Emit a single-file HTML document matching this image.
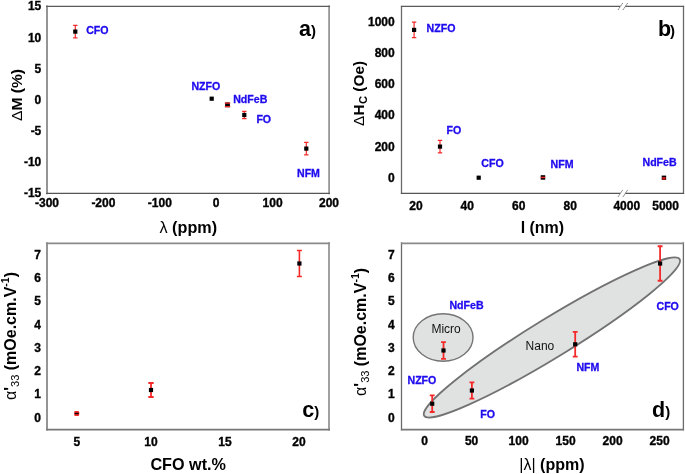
<!DOCTYPE html>
<html><head><meta charset="utf-8"><style>
html,body{margin:0;padding:0;background:#fff;}
svg{display:block;will-change:transform;}
text{font-family:"Liberation Sans",sans-serif;}
.t{font-size:12px;font-weight:bold;fill:#000;stroke:#000;stroke-width:0.35px;}
.l{font-size:10.6px;font-weight:bold;fill:#1e08ee;stroke:#1e08ee;stroke-width:0.3px;}
.ax{font-weight:bold;fill:#000;}
.g{font-weight:normal;}
.pl{font-size:21.5px;font-weight:bold;fill:#000;}
.pp{font-size:15px;font-weight:bold;}
.n{font-size:12px;font-weight:normal;fill:#111;}
</style></head><body>
<svg width="685" height="474" viewBox="0 0 685 474">
<defs><filter id="bl" x="0" y="0" width="1" height="1"><feGaussianBlur stdDeviation="0.3"/></filter></defs>
<g filter="url(#bl)">
<rect width="685" height="474" fill="#fff"/>

<path d="M47.0 5.5V194.2" stroke="#8a8a8a" stroke-width="1.8" fill="none"/>
<path d="M329.1 5.5V194.2" stroke="#969696" stroke-width="1.8" fill="none"/>
<path d="M46.1 6.45H330" stroke="#5a5a5a" stroke-width="1.2" fill="none"/>
<path d="M46.1 193.4H330" stroke="#555555" stroke-width="1.2" fill="none"/>
<text x="41.3" y="10.3" text-anchor="end" class="t">15</text>
<text x="41.3" y="41.5" text-anchor="end" class="t">10</text>
<text x="41.3" y="72.6" text-anchor="end" class="t">5</text>
<text x="41.3" y="103.8" text-anchor="end" class="t">0</text>
<text x="41.3" y="135.0" text-anchor="end" class="t">-5</text>
<text x="41.3" y="166.1" text-anchor="end" class="t">-10</text>
<text x="41.3" y="197.3" text-anchor="end" class="t">-15</text>
<text x="47.0" y="206.8" text-anchor="middle" class="t">-300</text>
<text x="103.4" y="206.8" text-anchor="middle" class="t">-200</text>
<text x="159.8" y="206.8" text-anchor="middle" class="t">-100</text>
<text x="216.2" y="206.8" text-anchor="middle" class="t">0</text>
<text x="272.6" y="206.8" text-anchor="middle" class="t">100</text>
<text x="329.0" y="206.8" text-anchor="middle" class="t">200</text>
<text x="188.3" y="232.7" text-anchor="middle" class="ax" font-size="16.2"><tspan class="g">λ</tspan> (ppm)</text>
<text transform="translate(21.6,95) rotate(-90) scale(1.07,1)" text-anchor="middle" class="ax" font-size="14.6"><tspan class="g">Δ</tspan>M (%)</text>
<path d="M75.30 25.35V37.85M73.10 25.35h4.4M73.10 37.85h4.4" stroke="#f42a2a" stroke-width="1.2" fill="none"/>
<rect x="73.20" y="29.50" width="4.2" height="4.2" fill="#000"/>
<rect x="209.60" y="96.60" width="4.2" height="4.2" fill="#000"/>
<rect x="225.10" y="102.45" width="4.8" height="4.8" fill="#000"/>
<path d="M224.80 103.05h5.3999999999999995M224.80 106.65h5.3999999999999995" stroke="#f42a2a" stroke-width="1.2"/>
<path d="M244.30 111.40V118.60M242.10 111.40h4.4M242.10 118.60h4.4" stroke="#f42a2a" stroke-width="1.2" fill="none"/>
<rect x="242.20" y="112.90" width="4.2" height="4.2" fill="#000"/>
<path d="M306.30 142.40V154.80M304.10 142.40h4.4M304.10 154.80h4.4" stroke="#f42a2a" stroke-width="1.2" fill="none"/>
<rect x="304.20" y="146.50" width="4.2" height="4.2" fill="#000"/>
<text x="86.2" y="34.1" class="l">CFO</text>
<text x="191.4" y="89.5" class="l">NZFO</text>
<text x="233.2" y="102.8" class="l">NdFeB</text>
<text x="256.4" y="123.2" class="l">FO</text>
<text x="297.0" y="177.3" class="l">NFM</text>
<text x="299" y="35.9" class="pl">a<tspan class="pp" dx="0">)</tspan></text>
<path d="M401.5 5.8V194" stroke="#6a6a6a" stroke-width="1.3" fill="none"/>
<path d="M683.5 5.8V194" stroke="#6a6a6a" stroke-width="1.3" fill="none"/>
<path d="M400.9 6.45H620.2" stroke="#5a5a5a" stroke-width="1.2" fill="none"/>
<path d="M625.4 6.45H684.1" stroke="#5a5a5a" stroke-width="1.2" fill="none"/>
<path d="M400.9 193.35H620.2" stroke="#555555" stroke-width="1.2" fill="none"/>
<path d="M625.4 193.35H684.1" stroke="#555555" stroke-width="1.2" fill="none"/>
<path d="M618.1 9.8L622.7 3.000000000000001" stroke="#5e5e5e" stroke-width="1" stroke-dasharray="1.6 0.8"/>
<path d="M623.1 9.8L627.7 3.000000000000001" stroke="#5e5e5e" stroke-width="1" stroke-dasharray="1.6 0.8"/>
<path d="M618.1 196.7L622.7 189.89999999999998" stroke="#5e5e5e" stroke-width="1" stroke-dasharray="1.6 0.8"/>
<path d="M623.1 196.7L627.7 189.89999999999998" stroke="#5e5e5e" stroke-width="1" stroke-dasharray="1.6 0.8"/>
<text x="394.7" y="25.9" text-anchor="end" class="t">1000</text>
<text x="394.7" y="57.1" text-anchor="end" class="t">800</text>
<text x="394.7" y="88.2" text-anchor="end" class="t">600</text>
<text x="394.7" y="119.4" text-anchor="end" class="t">400</text>
<text x="394.7" y="150.5" text-anchor="end" class="t">200</text>
<text x="394.7" y="181.7" text-anchor="end" class="t">0</text>
<text x="416.0" y="209.5" text-anchor="middle" class="t">20</text>
<text x="467.3" y="209.5" text-anchor="middle" class="t">40</text>
<text x="518.8" y="209.5" text-anchor="middle" class="t">60</text>
<text x="570.2" y="209.5" text-anchor="middle" class="t">80</text>
<text x="626.8" y="209.5" text-anchor="middle" class="t">4000</text>
<text x="665.6" y="209.5" text-anchor="middle" class="t">5000</text>
<text x="542.4" y="232.9" text-anchor="middle" class="ax" font-size="16">l (nm)</text>
<text transform="translate(363.7,93.4) rotate(-90) scale(1.055,1)" text-anchor="middle" class="ax" font-size="14.6"><tspan class="g">Δ</tspan>H<tspan font-size="10.6" dy="3.6" dx="0.4">C</tspan><tspan dy="-3.6"> (Oe)</tspan></text>
<path d="M414.10 22.15V37.65M411.90 22.15h4.4M411.90 37.65h4.4" stroke="#f42a2a" stroke-width="1.2" fill="none"/>
<rect x="412.00" y="27.80" width="4.2" height="4.2" fill="#000"/>
<path d="M440.00 140.40V152.80M437.80 140.40h4.4M437.80 152.80h4.4" stroke="#f42a2a" stroke-width="1.2" fill="none"/>
<rect x="437.90" y="144.50" width="4.2" height="4.2" fill="#000"/>
<rect x="476.60" y="175.60" width="4.2" height="4.2" fill="#000"/>
<rect x="540.70" y="175.20" width="4.5" height="4.5" fill="#000"/>
<path d="M540.70 177.45h4.5" stroke="#f42a2a" stroke-width="1.4"/>
<rect x="661.75" y="175.60" width="4.4" height="4.4" fill="#000"/>
<rect x="662.25" y="177.00" width="3.4000000000000004" height="2.8000000000000003" fill="#c81818"/>
<text x="426.6" y="31.8" class="l">NZFO</text>
<text x="446.5" y="133.5" class="l">FO</text>
<text x="481.3" y="166.5" class="l">CFO</text>
<text x="550.6" y="168.4" class="l">NFM</text>
<text x="642.5" y="165.6" class="l">NdFeB</text>
<text x="658" y="35.9" class="pl">b<tspan class="pp" dx="-1.2">)</tspan></text>
<path d="M47.0 242.3V430.4" stroke="#8a8a8a" stroke-width="1.8" fill="none"/>
<path d="M329.0 242.3V430.4" stroke="#969696" stroke-width="1.8" fill="none"/>
<path d="M46.1 243.3H330" stroke="#8a8a8a" stroke-width="1.8" fill="none"/>
<path d="M46.1 429.6H330" stroke="#777777" stroke-width="1.6" fill="none"/>
<text x="40.9" y="421.7" text-anchor="end" class="t">0</text>
<text x="40.9" y="398.4" text-anchor="end" class="t">1</text>
<text x="40.9" y="375.2" text-anchor="end" class="t">2</text>
<text x="40.9" y="351.9" text-anchor="end" class="t">3</text>
<text x="40.9" y="328.7" text-anchor="end" class="t">4</text>
<text x="40.9" y="305.4" text-anchor="end" class="t">5</text>
<text x="40.9" y="282.2" text-anchor="end" class="t">6</text>
<text x="40.9" y="258.9" text-anchor="end" class="t">7</text>
<text x="76.9" y="445.6" text-anchor="middle" class="t">5</text>
<text x="150.9" y="445.6" text-anchor="middle" class="t">10</text>
<text x="224.9" y="445.6" text-anchor="middle" class="t">15</text>
<text x="298.9" y="445.6" text-anchor="middle" class="t">20</text>
<text x="188.2" y="469.9" text-anchor="middle" class="ax" font-size="16.2">CFO wt.%</text>
<text transform="translate(15.8,336) rotate(-90)" text-anchor="middle" class="ax" font-size="16"><tspan class="g">α</tspan>'<tspan font-size="11" dy="3.5" class="g">33</tspan><tspan dy="-3.5"> (mOe.cm.V</tspan><tspan font-size="10.5" dy="-6.8">-1</tspan><tspan dy="6.8">)</tspan></text>
<rect x="74.2" y="411.1" width="5" height="4.8" rx="1.2" fill="#f42a2a"/>
<rect x="74.7" y="412.8" width="4" height="1.4" fill="#000"/>
<path d="M151.00 383.00V397.00M148.35 383.00h5.3M148.35 397.00h5.3" stroke="#f42a2a" stroke-width="1.8" fill="none"/>
<rect x="148.90" y="387.90" width="4.2" height="4.2" fill="#000"/>
<path d="M299.40 250.50V276.50M296.90 250.50h5M296.90 276.50h5" stroke="#f42a2a" stroke-width="1.6" fill="none"/>
<rect x="297.30" y="261.40" width="4.2" height="4.2" fill="#000"/>
<text x="302.2" y="416.9" class="pl">c<tspan class="pp" dx="0">)</tspan></text>
<path d="M401.5 242.3V430.4" stroke="#6a6a6a" stroke-width="1.3" fill="none"/>
<path d="M683.4 242.3V430.4" stroke="#6a6a6a" stroke-width="1.3" fill="none"/>
<path d="M400.9 243.4H684.1" stroke="#8a8a8a" stroke-width="1.8" fill="none"/>
<path d="M400.9 429.6H684.1" stroke="#777777" stroke-width="1.6" fill="none"/>
<text x="394.7" y="421.7" text-anchor="end" class="t">0</text>
<text x="394.7" y="398.4" text-anchor="end" class="t">1</text>
<text x="394.7" y="375.2" text-anchor="end" class="t">2</text>
<text x="394.7" y="351.9" text-anchor="end" class="t">3</text>
<text x="394.7" y="328.7" text-anchor="end" class="t">4</text>
<text x="394.7" y="305.4" text-anchor="end" class="t">5</text>
<text x="394.7" y="282.2" text-anchor="end" class="t">6</text>
<text x="394.7" y="258.9" text-anchor="end" class="t">7</text>
<text x="424.6" y="445.4" text-anchor="middle" class="t">0</text>
<text x="471.6" y="445.4" text-anchor="middle" class="t">50</text>
<text x="518.6" y="445.4" text-anchor="middle" class="t">100</text>
<text x="565.6" y="445.4" text-anchor="middle" class="t">150</text>
<text x="612.6" y="445.4" text-anchor="middle" class="t">200</text>
<text x="659.6" y="445.4" text-anchor="middle" class="t">250</text>
<text x="551.9" y="470" text-anchor="middle" class="ax" font-size="16"><tspan class="g">|λ|</tspan> (ppm)</text>
<text transform="translate(365.5,331.9) rotate(-90)" text-anchor="middle" class="ax" font-size="16"><tspan class="g">α</tspan>'<tspan font-size="11" dy="3.5" class="g">33</tspan><tspan dy="-3.5"> (mOe.cm.V</tspan><tspan font-size="10.5" dy="-6.8">-1</tspan><tspan dy="6.8">)</tspan></text>
<ellipse cx="443.1" cy="337.5" rx="29.9" ry="23.7" fill="#e0e2e1" stroke="#747474" stroke-width="1.4"/>
<ellipse cx="551.9" cy="337.5" rx="149.8" ry="19.6" transform="rotate(-31.48 551.9 337.5)" fill="#e0e2e1" stroke="#727272" stroke-width="1.8"/>
<text x="431.4" y="332.5" class="n" font-size="11.5">Micro</text>
<text x="525.6" y="350.3" class="n">Nano</text>
<path d="M432.20 395.40V412.00M429.75 395.40h4.9M429.75 412.00h4.9" stroke="#f42a2a" stroke-width="1.8" fill="none"/>
<rect x="430.10" y="401.60" width="4.2" height="4.2" fill="#000"/>
<path d="M443.50 342.20V358.80M441.05 342.20h4.9M441.05 358.80h4.9" stroke="#f42a2a" stroke-width="1.8" fill="none"/>
<rect x="441.40" y="348.40" width="4.2" height="4.2" fill="#000"/>
<path d="M471.90 382.40V398.60M469.45 382.40h4.9M469.45 398.60h4.9" stroke="#f42a2a" stroke-width="1.8" fill="none"/>
<rect x="469.80" y="388.40" width="4.2" height="4.2" fill="#000"/>
<path d="M575.20 331.95V356.65M572.75 331.95h4.9M572.75 356.65h4.9" stroke="#f42a2a" stroke-width="1.8" fill="none"/>
<rect x="573.10" y="342.20" width="4.2" height="4.2" fill="#000"/>
<path d="M660.10 246.25V280.75M657.65 246.25h4.9M657.65 280.75h4.9" stroke="#f42a2a" stroke-width="1.8" fill="none"/>
<rect x="658.00" y="261.40" width="4.2" height="4.2" fill="#000"/>
<text x="449.4" y="308.9" class="l">NdFeB</text>
<text x="407.5" y="384" class="l">NZFO</text>
<text x="480.3" y="417.8" class="l">FO</text>
<text x="576.4" y="371.2" class="l">NFM</text>
<text x="656.5" y="310.2" class="l">CFO</text>
<text x="652" y="416.8" class="pl">d<tspan class="pp" dx="0">)</tspan></text>
</g></svg>
</body></html>
